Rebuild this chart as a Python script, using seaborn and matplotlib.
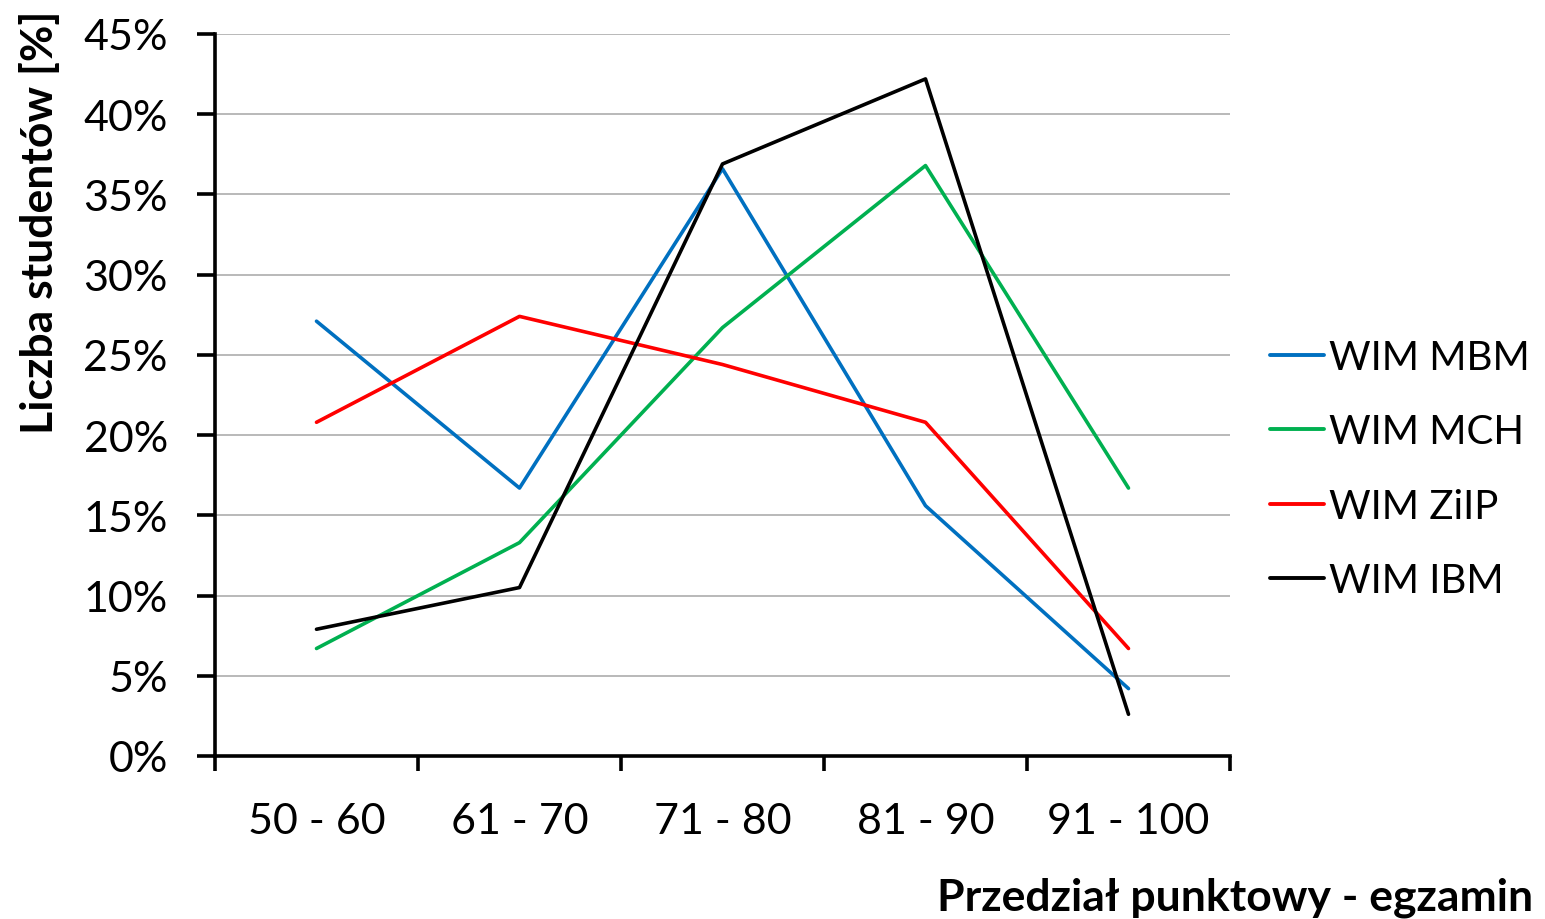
import matplotlib
matplotlib.use("Agg")
import matplotlib.pyplot as plt
from matplotlib.ticker import FixedLocator, PercentFormatter
import seaborn as sns
import pandas as pd

# Score ranges (categories on the x axis)
ranges = ["50 - 60", "61 - 70", "71 - 80", "81 - 90", "91 - 100"]

# Share of students per score range [%]
wim_mbm = [27.1, 16.7, 36.6, 15.6, 4.2]
wim_mch = [6.7, 13.3, 26.7, 36.8, 16.7]
wim_ziip = [20.8, 27.4, 24.4, 20.8, 6.7]
wim_ibm = [7.9, 10.5, 36.9, 42.2, 2.6]

series_names = ["WIM MBM", "WIM MCH", "WIM ZiIP", "WIM IBM"]
series_values = [wim_mbm, wim_mch, wim_ziip, wim_ibm]
palette = {"WIM MBM": "#0070C0", "WIM MCH": "#00B050",
           "WIM ZiIP": "#FF0000", "WIM IBM": "#000000"}

rows = []
for name, vals in zip(series_names, series_values):
    for i, (r, v) in enumerate(zip(ranges, vals)):
        rows.append({"pos": i, "range": r, "value": v, "series": name})
df = pd.DataFrame(rows)

sns.set_theme(style="white")
plt.rcParams["font.family"] = ["Lato", "DejaVu Sans"]

fig = plt.figure(figsize=(15.45, 9.2), dpi=100)
ax = fig.add_axes([215 / 1545, 1 - 757 / 920, (1230 - 215) / 1545, (757 - 35) / 920])

sns.lineplot(data=df, x="pos", y="value", hue="series", hue_order=series_names,
             palette=palette, linewidth=2.6, ax=ax, legend=True)

ax.set_xlim(-0.5, 4.5)
ax.set_ylim(0, 45)
ax.set_yticks(range(0, 46, 5))
ax.yaxis.set_major_formatter(PercentFormatter(decimals=0))
ax.set_xticks(range(len(ranges)))
ax.set_xticklabels(ranges)
ax.xaxis.set_minor_locator(FixedLocator([i - 0.5 for i in range(len(ranges) + 1)]))

ax.grid(axis="y", color="#a6a6a6", linewidth=1.1)
ax.set_axisbelow(True)
for side in ("top", "right"):
    ax.spines[side].set_visible(False)
for side in ("left", "bottom"):
    ax.spines[side].set_color("black")
    ax.spines[side].set_linewidth(2.6)

ax.tick_params(axis="y", which="major", direction="out", length=13, width=2.6,
               color="black", labelsize=31, pad=21, left=True)
ax.tick_params(axis="x", which="major", length=0, labelsize=31, pad=33)
ax.tick_params(axis="x", which="minor", direction="out", length=11, width=2.6,
               color="black", bottom=True)
for lab in ax.get_xticklabels() + ax.get_yticklabels():
    lab.set_color("black")

ax.set_xlabel("")
ax.set_ylabel("")

handles, labels = ax.get_legend_handles_labels()
ax.get_legend().remove()
leg = fig.legend(handles, labels, loc="center left",
                 bbox_to_anchor=(1254 / 1545, 1 - 470 / 920), frameon=False,
                 fontsize=29, handlelength=1.35, handletextpad=0.12,
                 labelspacing=0.93, borderaxespad=0)
for h in leg.get_lines():
    h.set_linewidth(2.8)
for t in leg.get_texts():
    t.set_color("black")

fig.text(40 / 1545, 1 - 222 / 920, "Liczba studentów [%]", rotation=90,
         ha="center", va="center", fontsize=32, fontweight="bold", color="black")
fig.text(1533 / 1545, 1 - 911 / 920, "Przedział punktowy - egzamin",
         ha="right", va="baseline", fontsize=32, fontweight="bold", color="black")

fig.savefig("out.png", dpi=100, facecolor="white")
